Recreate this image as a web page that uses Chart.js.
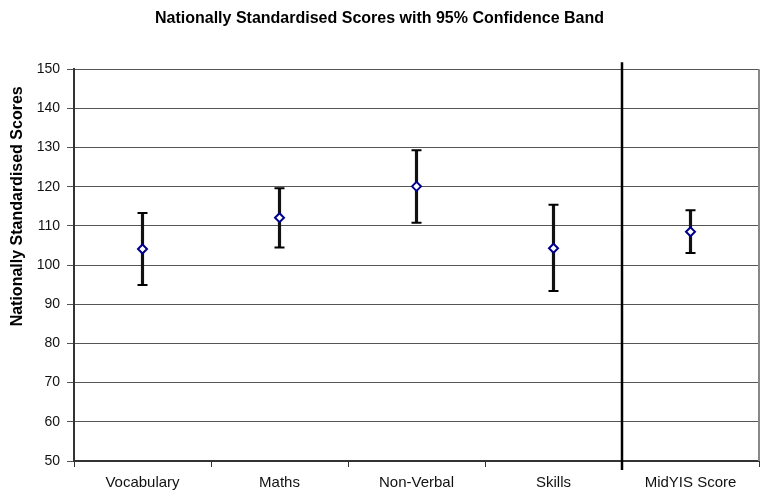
<!DOCTYPE html>
<html>
<head>
<meta charset="utf-8">
<script src="https://cdn.jsdelivr.net/npm/chart.js@4/dist/chart.umd.min.js"></script>
<style>
  html, body { margin: 0; padding: 0; background: #fff; }
  #wrap { width: 772px; height: 503px; }
</style>
</head>
<body>
<div id="wrap"><canvas id="myChart" width="772" height="503"></canvas></div>
<script>
// values
const categories = ['Vocabulary', 'Maths', 'Non-Verbal', 'Skills', 'MidYIS Score'];
const scores = [104.1, 112.1, 120.1, 104.3, 108.5];
const lower  = [94.9, 104.5, 110.8, 93.4, 103.1];
const upper  = [113.3, 119.6, 129.3, 115.4, 114.0];
const yTitle = 'Nationally Standardised Scores';

const FONT = '"Liberation Sans", Arial, sans-serif';

// thick separator before MidYIS, grey right border, y axis title (sits high, like the original)
const extras = {
  id: 'extras',
  afterDatasetsDraw(chart) {
    const { ctx, chartArea, scales } = chart;
    const x = Math.round((scales.x.getPixelForValue(3) + scales.x.getPixelForValue(4)) / 2);
    ctx.save();
    ctx.strokeStyle = '#000';
    ctx.lineWidth = 2.5;
    ctx.beginPath();
    ctx.moveTo(x, chartArea.top - 7);
    ctx.lineTo(x, chartArea.bottom + 9);
    ctx.stroke();
    ctx.strokeStyle = '#888';
    ctx.lineWidth = 2;
    ctx.beginPath();
    ctx.moveTo(chartArea.right, chartArea.top);
    ctx.lineTo(chartArea.right, chartArea.bottom);
    ctx.stroke();

    ctx.translate(18, scales.y.getPixelForValue(115));
    ctx.rotate(-Math.PI / 2);
    ctx.fillStyle = '#000';
    ctx.font = 'bold 16px ' + FONT;
    ctx.textAlign = 'center';
    ctx.textBaseline = 'middle';
    ctx.fillText(yTitle, 0, 0);
    ctx.restore();
  }
};

const data = {
  labels: categories,
  datasets: [{
    type: 'line',
    label: 'Score',
    data: scores,
    showLine: false,
    pointStyle: 'rectRot',
    pointRadius: 4.5,
    pointBorderWidth: 2,
    pointBorderColor: '#00008B',
    pointBackgroundColor: '#fff',
    order: 0
  }, {
    type: 'line',
    label: 'upper',
    data: upper,
    showLine: false,
    pointStyle: 'line',
    pointRadius: 5,
    pointBorderWidth: 2,
    pointBorderColor: '#000',
    order: 1
  }, {
    type: 'line',
    label: 'lower',
    data: lower,
    showLine: false,
    pointStyle: 'line',
    pointRadius: 5,
    pointBorderWidth: 2,
    pointBorderColor: '#000',
    order: 1
  }, {
    type: 'bar',
    label: 'band',
    data: lower.map((l, i) => [l, upper[i]]),
    backgroundColor: '#111',
    barThickness: 2.5,
    order: 2
  }]
};

const config = {
  type: 'bar',
  data: data,
  options: {
    responsive: false,
    animation: false,
    layout: { padding: { left: 0, right: 13, top: 0, bottom: 0 } },
    plugins: {
      legend: { display: false },
      tooltip: { enabled: false },
      title: {
        display: true,
        text: 'Nationally Standardised Scores with 95% Confidence Band',
        color: '#000',
        font: { family: FONT, size: 16, weight: 'bold' },
        padding: { top: 9, bottom: 41 }
      }
    },
    scales: {
      x: {
        offset: true,
        grid: {
          offset: true,
          drawOnChartArea: false,
          drawTicks: true,
          tickLength: 6,
          color: '#333',
          lineWidth: 1
        },
        border: { color: '#333', width: 2 },
        ticks: {
          color: '#111',
          padding: 7,
          font: { family: FONT, size: 15 }
        },
        afterFit(scale) { scale.height = 42; }
      },
      y: {
        min: 50,
        max: 150,
        ticks: {
          stepSize: 10,
          color: '#111',
          padding: 7,
          font: { family: FONT, size: 14 }
        },
        grid: { color: '#555', lineWidth: 1, tickLength: 7 },
        border: { color: '#333', width: 2 },
        afterFit(scale) { scale.width = 74; }
      }
    }
  },
  plugins: [extras]
};

const myChart = new Chart(document.getElementById('myChart'), config);
</script>
</body>
</html>
